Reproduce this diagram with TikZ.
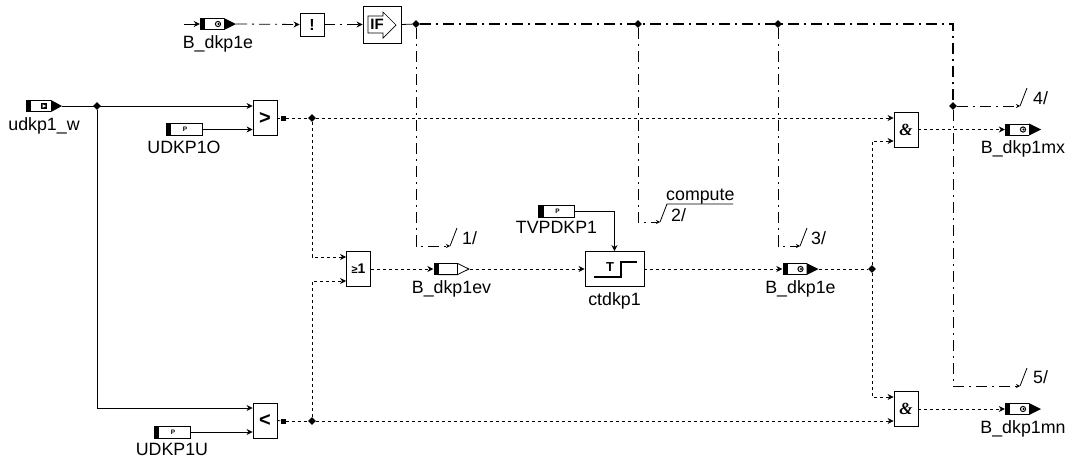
\documentclass[tikz,border=0pt]{standalone}
\usepackage{fontspec}
\setmainfont{Liberation Sans}
\newfontfamily\andfont{Liberation Serif}
\usetikzlibrary{positioning,arrows.meta,shapes.geometric}

\begin{document}
\begin{tikzpicture}[
        x=1pt, y=-1pt,
        node distance=3pt,
        font=\fontsize{17.8}{19}\selectfont,
        block/.style={draw, line width=0.8pt, fill=white, minimum width=24pt, minimum height=35pt, inner sep=0pt, font=\fontsize{15}{15}\selectfont\bfseries},
        tag/.style={inner sep=0pt},
        dot/.style={diamond, fill=black, minimum size=8pt, inner sep=0pt},
        outpin/.style={rectangle, fill=black, minimum size=5pt, inner sep=0pt},
        marker/.style={rectangle, fill=white, minimum width=36pt, minimum height=12pt, inner sep=0pt},
        outmark/.style={marker, path picture={
            \fill[black] (path picture bounding box.north west) rectangle ([xshift=5pt]path picture bounding box.south west);
            \draw[line width=0.8pt] ([shift={(5pt,-0.4pt)}]path picture bounding box.north west) -- ([shift={(24pt,-0.4pt)}]path picture bounding box.north west);
            \draw[line width=0.8pt] ([shift={(5pt,0.4pt)}]path picture bounding box.south west) -- ([shift={(24pt,0.4pt)}]path picture bounding box.south west);
            \fill[black] ([xshift=24pt]path picture bounding box.north west) -- (path picture bounding box.east) -- ([xshift=24pt]path picture bounding box.south west) -- cycle;
            \draw[line width=1pt] ([xshift=18pt]path picture bounding box.west) circle (2.6pt);
            \fill[black] ([xshift=18.5pt]path picture bounding box.west) circle (1.1pt);
        }},
        inmark/.style={marker, path picture={
            \fill[black] (path picture bounding box.north west) rectangle ([xshift=5pt]path picture bounding box.south west);
            \draw[line width=0.8pt] ([shift={(5pt,-0.4pt)}]path picture bounding box.north west) -- ([shift={(25pt,-0.4pt)}]path picture bounding box.north west);
            \draw[line width=0.8pt] ([shift={(5pt,0.4pt)}]path picture bounding box.south west) -- ([shift={(25pt,0.4pt)}]path picture bounding box.south west);
            \fill[black] ([xshift=25pt]path picture bounding box.north west) -- (path picture bounding box.east) -- ([xshift=25pt]path picture bounding box.south west) -- cycle;
            \fill[black] ([shift={(15pt,-3pt)}]path picture bounding box.west) rectangle ([shift={(21pt,3pt)}]path picture bounding box.west);
            \fill[white] ([shift={(16.5pt,-1.8pt)}]path picture bounding box.west) -- ([shift={(20pt,0pt)}]path picture bounding box.west) -- ([shift={(16.5pt,1.8pt)}]path picture bounding box.west) -- cycle;
        }},
        parmark/.style={marker, draw, line width=0.8pt, path picture={
            \fill[black] (path picture bounding box.north west) rectangle ([xshift=5pt]path picture bounding box.south west);
            \node[inner sep=0pt, text=black, font=\fontsize{6.5}{6.5}\selectfont\bfseries] at ([xshift=1pt]path picture bounding box.center) {P};
        }},
        evmark/.style={marker, path picture={
            \fill[black] (path picture bounding box.north west) rectangle ([xshift=5pt]path picture bounding box.south west);
            \draw[line width=0.8pt] ([shift={(5pt,-0.4pt)}]path picture bounding box.north west) -- ([shift={(24pt,-0.4pt)}]path picture bounding box.north west) -- ([xshift=-0.6pt]path picture bounding box.east) -- ([shift={(24pt,0.4pt)}]path picture bounding box.south west) -- ([shift={(5pt,0.4pt)}]path picture bounding box.south west);
            \draw[line width=0.8pt] ([shift={(24pt,-0.4pt)}]path picture bounding box.north west) -- ([shift={(24pt,0.4pt)}]path picture bounding box.south west);
        }},
        wire/.style={line width=0.8pt},
        sigwire/.style={line width=0.8pt, dash pattern=on 3pt off 3pt},
        ctlwire/.style={line width=0.8pt, dash pattern=on 11pt off 5pt on 2pt off 5pt},
        head/.style={-{Stealth[length=6pt,width=6pt]}},
        tickhead/.style={-{Stealth[length=4pt,width=4pt]}}
    ]
        \useasboundingbox (0,0) rectangle (1069,461);

        % top row
        \coordinate (start) at (184,24);
        \node[outmark] (bdkpa) at (218,24) {};
        \node[tag, below=5pt of bdkpa] (bdkpal) {B\_dkp1e};
        \node[block, minimum height=23pt, font=\fontsize{16}{16}\selectfont\bfseries] (notb) at (312,24.5) {!};
        \node[block, minimum width=38pt, minimum height=37pt, font=\fontsize{16}{16}\selectfont\bfseries] (ifb) at (382,24.5) {};
        \draw[line width=0.7pt] (368,16) -- (383,16) -- (383,12) -- (396,25) -- (383,38) -- (383,33) -- (368,33) -- cycle;
        \node[inner sep=0pt, font=\fontsize{15}{15}\selectfont\bfseries] (iftext) at (377,24.5) {IF};
        \node[dot] (ja) at (416,24) {};
        \node[dot] (jb) at (638,24) {};
        \node[dot] (jc) at (778,24) {};
        \coordinate (corner) at (953,24);
        \node[dot] (jd) at (953,106) {};

        % inputs and compares
        \node[inmark] (udkp) at (44,106) {};
        \node[tag, below=5pt of udkp] (udkpl) {udkp1\_w};
        \node[dot] (je) at (97,106) {};
        \node[block] (gtb) at (265,118) {\fontsize{20}{20}\selectfont >};
        \node[parmark] (upo) at (184,129.5) {};
        \node[tag, below=5pt of upo] (upol) {UDKP1O};
        \node[outpin] (gtp) at (283,118) {};
        \node[dot] (jf) at (312,118) {};
        \node[block] (ltb) at (265,420.5) {\fontsize{20}{20}\selectfont <};
        \node[parmark] (upu) at (172,432) {};
        \node[tag, below=5pt of upu] (upul) {UDKP1U};
        \node[outpin] (ltp) at (283,421) {};
        \node[dot] (jg) at (312,421) {};

        % middle row
        \node[block, font=\fontsize{14}{14}\selectfont\bfseries] (orb) at (358.5,269) {{\fontsize{11}{11}\selectfont ≥}1};
        \node[evmark] (bev) at (451.5,269) {};
        \node[tag, below=5pt of bev] (bevl) {B\_dkp1ev};
        \node[block, minimum width=59pt] (ctb) at (614.5,269) {};
        \node[tag, below=5pt of ctb] (ctl) {ctdkp1};
        \draw[line width=1.2pt] (594,277) -- (621,277) -- (621,262) -- (637,262);
        \node[inner sep=0pt, font=\fontsize{13}{13}\selectfont\bfseries] (ctt) at (610,267) {T};
        \node[parmark] (tvp) at (556.5,211) {};
        \node[tag, below=4pt of tvp] (tvpl) {TVPDKP1};
        \node[outmark] (bdkpb) at (800.5,269) {};
        \node[tag, below=5pt of bdkpb] (bdkpbl) {B\_dkp1e};
        \node[dot] (jh) at (872,269) {};

        % and blocks
        \node[block, font=\fontsize{17}{17}\andfont\bfseries\itshape] (anda) at (906,129.5) {\&};
        \node[block, font=\fontsize{17}{17}\andfont\bfseries\itshape] (andb) at (906,409) {\&};
        \node[outmark] (bmx) at (1023,129.5) {};
        \node[tag, below=5pt of bmx] (bmxl) {B\_dkp1mx};
        \node[outmark] (bmn) at (1023,409) {};
        \node[tag, below=5pt of bmn] (bmnl) {B\_dkp1mn};

        % page references
        \coordinate (ra) at (450,246);
        \coordinate (rb) at (660,222);
        \coordinate (rc) at (800,246);
        \coordinate (rd) at (1020,106);
        \coordinate (re) at (1020,386);
        \node[tag, anchor=west] (la) at (462,238) {1/};
        \node[tag, anchor=west] (lb) at (671,215) {2/};
        \node[tag, anchor=west] (lc) at (811,238) {3/};
        \node[tag, anchor=west] (ld) at (1033,98) {4/};
        \node[tag, anchor=west] (le) at (1033,377) {5/};
        \node[tag, anchor=south west] (lcomp) at (666,204) {compute};

        % solid wires
        \draw[wire, head] (start) -- (bdkpa.west);
        \draw[wire, head] (udkp.east) -- (gtb.west |- udkp.east);
        \draw[wire, head] (je) |- (ltb.west |- 0,408);
        \draw[wire, head] (upo.east) -- (gtb.west |- upo.east);
        \draw[wire, head] (upu.east) -- (ltb.west |- upu.east);
        \draw[wire, head] (tvp.east) -| (ctb.north);
        \draw[wire] (gtb.east) -- (gtp);
        \draw[wire] (ltb.east) -- (ltp);

        % signal wires
        \draw[sigwire] (gtp) -- (jf);
        \draw[sigwire] (ltp) -- (jg);
        \draw[sigwire, head] (jf) -- (anda.west |- jf);
        \draw[sigwire, head] (jg) -- (andb.west |- jg);
        \draw[sigwire, head] (jf) |- (orb.west |- 0,257);
        \draw[sigwire, head] (jg) |- (orb.west |- 0,281);
        \draw[sigwire, head] (orb.east) -- (bev.west);
        \draw[sigwire, head] (bev.east) -- (ctb.west);
        \draw[sigwire, head] (ctb.east) -- (bdkpb.west);
        \draw[sigwire] (bdkpb.east) -- (jh);
        \draw[sigwire, head] (jh) |- (anda.west |- 0,141);
        \draw[sigwire, head] (jh) |- (andb.west |- 0,397);
        \draw[sigwire, head] (anda.east) -- (bmx.west);
        \draw[sigwire, head] (andb.east) -- (bmn.west);

        % enable wires
        \draw[ctlwire, head] (bdkpa.east) -- (notb.west);
        \draw[ctlwire, head] (notb.east) -- (ifb.west);
        \draw[wire] (ifb.east) -- (ja);
        \draw[ctlwire, line width=1.2pt] (ja) -- (corner) -- (jd);
        \draw[ctlwire, tickhead] (ja) |- (ra);
        \draw[ctlwire, tickhead] (jb) |- (rb);
        \draw[ctlwire, tickhead] (jc) |- (rc);
        \draw[ctlwire, tickhead] (jd) -- (rd);
        \draw[ctlwire, tickhead] (jd) |- (re);

        % ticks
        \draw[wire] (ra) -- ++(7,-18);
        \draw[wire] (rb) -- ++(7,-18) -- ++(66,0);
        \draw[wire] (rc) -- ++(7,-18);
        \draw[wire] (rd) -- ++(7,-18);
        \draw[wire] (re) -- ++(7,-18);
    \end{tikzpicture}
\end{document}
